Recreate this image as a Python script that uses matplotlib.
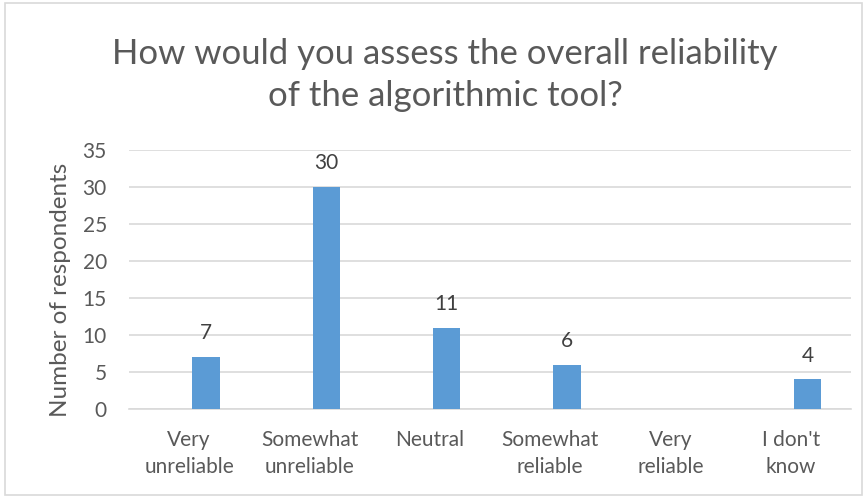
import matplotlib
matplotlib.use("Agg")
import matplotlib.pyplot as plt
from matplotlib.patches import Rectangle
import numpy as np

plt.rcParams['font.family'] = ['Lato', 'DejaVu Sans']

categories = ["Very\nunreliable", "Somewhat\nunreliable", "Neutral",
              "Somewhat\nreliable", "Very\nreliable", "I don't\nknow"]
counts = [7, 30, 11, 6, 0, 4]
title = "How would you assess the overall reliability\nof the algorithmic tool?"

W, H = 867, 497
fig = plt.figure(figsize=(W / 100, H / 100), dpi=100)

# outer chart frame
fig.patches.append(Rectangle((5 / W, 2 / H), 857 / W, 492 / H, transform=fig.transFigure,
                             fill=False, edgecolor="#d9d9d9", linewidth=1.2))

ax = fig.add_axes([129 / W, 88 / H, 722 / W, 259 / H])
x = np.arange(len(categories))
bars = ax.bar(x + 0.14, counts, width=0.225, color="#5b9bd5", zorder=3)

for xi, v in zip(x, counts):
    if v > 0:
        ax.annotate(str(v), (xi + 0.14, v), xytext=(0, 10), textcoords="offset points",
                    ha="center", va="bottom", fontsize=15, color="#404040")

ax.set_xlim(-0.5, len(categories) - 0.5)
ax.set_ylim(0, 35)
ax.set_yticks(range(0, 36, 5))
ax.set_xticks(x)
ax.set_xticklabels(categories, fontsize=15, color="#595959", linespacing=1.45)
ax.tick_params(axis="y", labelsize=15, labelcolor="#595959", length=0, pad=16)
ax.tick_params(axis="x", length=0, pad=15)
ax.grid(axis="y", color="#d9d9d9", linewidth=1.2, zorder=0)
for s in ["top", "right", "left"]:
    ax.spines[s].set_visible(False)
ax.spines["bottom"].set_color("#d9d9d9")
ax.spines["bottom"].set_linewidth(1.2)

ax.set_ylabel("Number of respondents", fontsize=17.5, color="#595959")
ax.yaxis.set_label_coords(-58 / 722, 0.46)

fig.text(445 / W, 1 - 75 / H, title, ha="center", va="center", fontsize=25,
         color="#595959", linespacing=1.4)

fig.savefig("out.png", dpi=100)
